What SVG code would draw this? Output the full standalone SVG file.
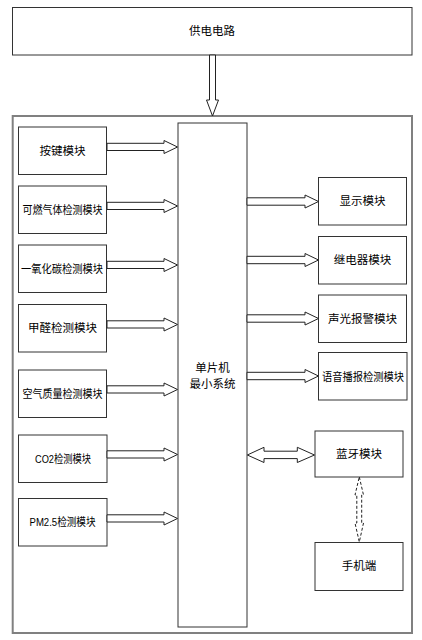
<svg xmlns="http://www.w3.org/2000/svg" width="422" height="640" viewBox="0 0 422 640">
<style>
.box{fill:#fff;stroke:#333;stroke-width:1}
.outer{fill:none;stroke:#808080;stroke-width:2}
.t{font-family:"Liberation Sans","Noto Sans CJK SC",sans-serif;font-size:11.5px;fill:#000;text-anchor:middle}
.ar{fill:#fff;stroke:#222;stroke-width:1;stroke-linejoin:miter}
.da{fill:#fff;stroke:#222;stroke-width:1;stroke-dasharray:3,2}
</style>
<rect width="422" height="640" fill="#fff"/>
<g id="outer"><rect class="outer" x="12.7" y="116" width="399.3" height="517"/></g>
<g id="power"><rect class="box" x="12.5" y="7.5" width="399.5" height="47.5"/><text class="t" x="212" y="35">供电电路</text></g>
<g id="mcu"><rect class="box" x="178" y="123" width="69" height="504"/><text class="t" x="212.5" y="372">单片机</text><text class="t" x="212.5" y="388">最小系统</text></g>
<g id="key"><rect class="box" x="18.5" y="127" width="88" height="47.5"/><text class="t" x="62.5" y="155">按键模块</text></g>
<g id="gas"><rect class="box" x="18.5" y="186" width="88" height="47.5"/><text class="t" x="62.5" y="214" textLength="80" lengthAdjust="spacingAndGlyphs">可燃气体检测模块</text></g>
<g id="co"><rect class="box" x="18.5" y="245" width="88" height="47.5"/><text class="t" x="62" y="273" textLength="82" lengthAdjust="spacingAndGlyphs">一氧化碳检测模块</text></g>
<g id="hcho"><rect class="box" x="18.5" y="304.5" width="88" height="47.5"/><text class="t" x="62.5" y="332">甲醛检测模块</text></g>
<g id="air"><rect class="box" x="18.5" y="370" width="88" height="47.5"/><text class="t" x="62.5" y="398" textLength="80" lengthAdjust="spacingAndGlyphs">空气质量检测模块</text></g>
<g id="co2"><rect class="box" x="18.5" y="435" width="88.5" height="47.5"/><text class="t" x="63" y="463" textLength="56" lengthAdjust="spacingAndGlyphs">CO2检测模块</text></g>
<g id="pm"><rect class="box" x="18.5" y="498.5" width="88.5" height="47.5"/><text class="t" x="62.5" y="526" textLength="66" lengthAdjust="spacingAndGlyphs">PM2.5检测模块</text></g>
<g id="display"><rect class="box" x="318.5" y="177.5" width="88" height="47.5"/><text class="t" x="362.5" y="205">显示模块</text></g>
<g id="relay"><rect class="box" x="318.5" y="236.5" width="88" height="47.5"/><text class="t" x="362.5" y="264">继电器模块</text></g>
<g id="alarm"><rect class="box" x="318.5" y="295" width="88" height="47.5"/><text class="t" x="362.5" y="323">声光报警模块</text></g>
<g id="voice"><rect class="box" x="318.5" y="352.5" width="88.5" height="47.5"/><text class="t" x="363" y="380.5" textLength="82" lengthAdjust="spacingAndGlyphs">语音播报检测模块</text></g>
<g id="bt"><rect class="box" x="315" y="431" width="88" height="46"/><text class="t" x="359" y="458">蓝牙模块</text></g>
<g id="phone"><rect class="box" x="315" y="542.5" width="88" height="48"/><text class="t" x="359" y="570">手机端</text></g>
<g id="connectors">
<polygon class="ar" points="209.5,55 215.5,55 215.5,100 218.5,100 212.5,116 206.5,100 209.5,100"/>
<polygon class="ar" points="107,143.3 164,143.3 164,140.5 177.5,147 164,153.5 164,150.5 107,150.5"/>
<polygon class="ar" points="107,202.3 164,202.3 164,199.5 177.5,206 164,212.5 164,209.5 107,209.5"/>
<polygon class="ar" points="107,261.3 164,261.3 164,258.5 177.5,265 164,271.5 164,268.5 107,268.5"/>
<polygon class="ar" points="107,320.8 164,320.8 164,318 177.5,324.5 164,331 164,328 107,328"/>
<polygon class="ar" points="107,385.8 164,385.8 164,383 177.5,389.5 164,396 164,393 107,393"/>
<polygon class="ar" points="107,450.8 164,450.8 164,448 177.5,454.5 164,461 164,458 107,458"/>
<polygon class="ar" points="107,514.8 164,514.8 164,512 177.5,518.5 164,525 164,522 107,522"/>
<polygon class="ar" points="247,197.8 305,197.8 305,195 318.5,201.5 305,208 305,205.2 247,205.2"/>
<polygon class="ar" points="247,256.3 305,256.3 305,253.5 318.5,260 305,266.5 305,263.7 247,263.7"/>
<polygon class="ar" points="247,314.8 305,314.8 305,312 318.5,318.5 305,325 305,322.2 247,322.2"/>
<polygon class="ar" points="247,372.3 305,372.3 305,369.5 318.5,376 305,382.5 305,379.7 247,379.7"/>
<polygon class="ar" points="247.3,455 264,447.3 264,451.2 297.3,451.2 297.3,447.3 314.5,455 297.3,462.5 297.3,458.6 264,458.6 264,462.5"/>
<polygon class="da" points="359.3,477 363.5,495 361.7,495 361.7,523 363.5,523 359.3,542 355,523 356.8,523 356.8,495 355,495"/>
</g>
</svg>
